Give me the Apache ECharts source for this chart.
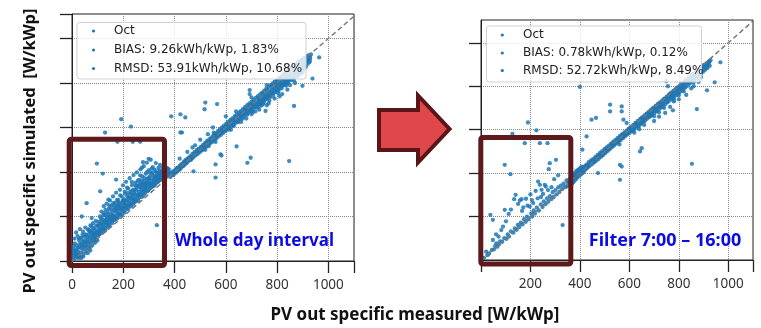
<!DOCTYPE html>
<html>
<head>
<meta charset="utf-8">
<script src="https://cdn.jsdelivr.net/npm/echarts@6/dist/echarts.min.js"></script>
<style>html,body{margin:0;padding:0;background:#fff}#c{width:761px;height:328px}</style>
</head>
<body>
<div id="c"></div>
<script>
// ---- data (measured, simulated) in W/kWp ----
const refLine = [[0, 0], [1100, 1100]];
const legendLeft = ['Oct', 'BIAS: 9.26kWh/kWp, 1.83%', 'RMSD: 53.91kWh/kWp, 10.68%'];
const legendRight = ['Oct', 'BIAS: 0.78kWh/kWp, 0.12%', 'RMSD: 52.72kWh/kWp, 8.49%'];
const labelLeft = 'Whole day interval';
const labelRight = 'Filter 7:00 \u2013 16:00';
const xTitle = 'PV out specific measured [W/kWp]';
const yTitle = 'PV out specific simulated  [W/kWp]';

const wholeDayLow = [
[1,4],[3,37],[4,11],[6,66],[7,22],[9,9],[10,101],[12,48],[13,30],[15,18],[16,128],[18,70],[19,25],[21,57],[22,112],[24,42],[25,29],[27,94],[28,16],[30,77],[31,143],[33,59],[34,38],[36,104],[37,21],[39,88],[40,65],[42,50],[43,132],[45,70],[46,32],[48,108],[49,84],[51,55],[52,150],[54,74],[55,43],[57,115],[58,95],[60,66],[61,35],[63,140],[64,83],[66,56],[67,122],[69,100],[70,78],[72,160],[73,64],[75,109],[76,90],[78,134],[79,71],[81,98],[82,170],[84,118],[85,88],[87,146],[88,103],[90,82],[91,125],[93,180],[94,98],[96,137],[97,115],[99,92],[100,158],
[102,131],[103,176],[105,118],[106,149],[108,121],[109,200],[111,139],[112,126],[114,165],[115,222],[117,143],[118,131],[120,187],[121,160],[123,140],[124,246],[126,171],[127,150],[129,206],[130,138],[132,183],[133,162],[135,258],[136,171],[138,150],[139,221],[141,185],[142,162],[144,236],[145,198],[147,157],[148,272],[150,210],[151,176],[153,191],[154,248],[156,170],[157,222],[159,187],[160,290],[162,205],[163,182],[165,238],[166,196],[168,262],[169,186],[171,220],[172,307],[174,204],[175,246],[177,192],[178,231],[180,275],[181,215],[183,200],[184,258],[186,236],[187,320],[189,210],[190,248],[192,226],[193,290],[195,205],[196,262],[198,240],[199,340],[201,222],[202,278],[204,246],[205,218],[207,302],[208,256],[210,236],[211,356],[213,272],[214,232],[216,290],[217,250],[219,325],[220,236],[222,266],[223,248],[225,372],[226,284],[228,258],[229,310],[231,246],[232,278],[234,340],[235,262],[237,294],[238,255],[240,386],[241,276],[243,320],[244,264],[246,300],[247,352],[249,268],[250,290],[252,318],[253,398],[255,280],[256,338],[258,296],[259,270],[261,365],[262,310],[264,286],[265,330],[267,412],[268,300],[270,346],[271,318],[273,288],[274,380],[276,306],[277,334],[279,296],[280,426],[282,322],[283,360],[285,305],[286,345],[288,392],[289,318],[291,336],[292,442],[294,314],[295,370],[297,340],[298,318],[300,408],[301,352],[303,326],[304,380],[306,338],[307,455],[309,360],[310,330],[312,396],[313,348],[315,422],[316,338],[318,370],[319,352],[321,338],[322,410],[324,368],[325,346],[327,440],[328,380],[330,352],[331,396],[333,362],[334,375],[336,356],[337,418],[339,372],[340,385],[342,362],[343,432],[345,390],[346,372],[348,404],[349,366],[351,384],[352,420],[354,378],[355,398],[357,370],[358,386],[360,414],[361,380],[363,396],[364,372],[366,406],[367,388],[369,380],[370,418],[372,392],[373,386],[375,400],[376,392],[378,410],[379,388],
[6,52],[11,79],[17,45],[23,14],[29,102],[35,12],[41,118],[47,90],[14,35],[26,62],[38,75],[44,20],
[53,120],[56,60],[62,108],[68,135],[71,47],[77,155],[80,115],[86,125],[92,100],[95,160],[98,130],[59,88],[65,142],[74,128],[83,145],[89,112],
[104,160],[107,135],[113,190],[119,150],[122,205],[128,178],[131,230],[137,195],[143,168],[146,250],[110,168],[116,176],[125,215],[134,188],[140,210],[149,185],
[152,232],[158,205],[161,260],[167,228],[170,195],[176,275],[179,248],[185,212],[188,295],[194,232],[197,270],[155,198],[164,250],[173,236],[182,262],[191,240],
[203,260],[206,312],[212,248],[215,330],[221,285],[224,258],[230,300],[233,355],[239,280],[242,305],[248,340],[209,272],[218,305],[227,282],[236,318],[245,272],
[251,330],[257,360],[260,300],[266,385],[269,330],[275,350],[278,315],[284,372],[287,330],[293,400],[296,355],[263,345],[272,362],[281,340],[290,350],[299,370],
[302,372],[308,345],[311,415],[317,385],[320,360],[326,402],[332,378],[338,395],[344,385],[350,400],[356,392],[362,408],[368,395],[374,415],[305,395],[323,380],[341,405],[359,425]
];
const wholeDayBand = [
[380,392],[383,377],[386,395],[388,384],[391,389],[394,403],[396,386],[399,401],[402,395],[404,412],[407,399],[410,408],[412,420],[415,407],[418,416],[421,428],[423,414],[426,422],[429,437],[431,425],[434,430],[437,446],[440,432],[442,441],[445,455],[448,440],[450,449],[453,462],[456,450],[459,457],[461,471],[464,455],[467,466],[470,481],[472,464],[475,473],[478,489],[481,474],[483,482],[486,498],[489,480],[492,490],[494,505],[497,488],[500,497],[503,513],[505,496],[508,506],[511,522],[514,505],[516,514],[519,531],[522,512],[525,522],[527,540],[530,521],[533,530],[536,548],[538,528],[541,538],[544,556],[547,535],[549,545],[552,565],[555,544],[558,553],[560,573],[563,551],[566,562],[569,583],[571,559],[574,570],[577,592],[580,566],[582,578],[585,600],[588,574],[591,586],[593,608],[596,582],[599,594],[602,617],[604,590],[607,601],[610,626],[613,597],[615,610],[618,634],[621,604],[624,617],[626,641],[629,612],[632,626],[635,651],[637,620],[640,633],[643,658],[646,627],[648,642],[651,667],[654,636],[657,650],[659,675],[662,644],[665,657],[668,684],[670,650],[673,666],[676,692],[679,659],[681,673],[684,700],[687,666],[690,682],[692,708],[695,674],[698,690],[701,716],[703,681],[706,698],[709,725],[712,690],[714,706],[717,733],[720,697],[723,714],[725,741],[728,705],[731,722],[734,750],[736,713],[739,730],[742,757],[745,720],[747,738],[750,766],[753,728],[756,746],[758,774],[761,735],[764,754],[767,782],[769,742],[772,762],[775,790],[778,750],[780,770],[783,798],[786,757],[789,778],[791,806],[794,765],[797,786],[800,814],[802,772],[805,793],[808,822],[811,780],[813,801],[816,830],[819,788],[822,809],[824,838],[827,795],[830,817],[833,846],[835,803],[838,824],[841,854],[844,810],[846,832],[849,862],[852,818],[855,840],[857,870],[860,826],[863,848],[866,878],[868,834],[871,855],[874,886],[877,842],[879,863],[882,894],[885,850],[888,871],[890,900],[893,858],[896,879],[899,906],[901,866],[904,888],[907,913],[910,875],[912,897],[915,918],[918,884],[921,905],[923,924],[926,893],[929,912],[932,928],
[402,400],[409,414],[417,411],[425,430],[433,427],[441,449],[447,445],[455,460],[463,457],[471,472],[479,480],[487,486],[495,499],[501,504],[509,500],[518,520],[524,529],[532,536],[540,533],[546,550],[553,549],[561,562],[567,571],[575,568],[583,585],[589,593],[597,589],[605,606],[611,599],[619,622],[627,619],[633,637],[641,629],[649,651],[655,644],[663,667],[671,658],[677,680],[685,672],[693,688],[699,703],[707,692],[715,712],[721,708],[729,727],[737,721],[743,740],[751,738],[759,751],[765,760],[773,755],[781,779],[787,768],[795,790],[803,786],[809,805],[817,797],[825,820],[831,808],[839,834],[847,824],[853,848],[861,838],[869,862],[875,850],[883,876],[891,866],[897,892],[905,880],[913,903],[919,895],[927,918],
[603,610],[612,590],[622,628],[631,607],[639,645],[648,624],[657,662],[666,640],[674,679],[683,657],[692,697],[700,674],[709,715],[718,690],[727,734],[735,707],[744,752],[752,724],[762,769],[770,740],[779,787],[788,756],[797,804],[805,772],[814,822],[823,790],[832,840],[840,806],[849,856],[858,823],[866,873],[875,840],[884,890],[893,856],[902,908],[911,872],[920,922],[928,900],
[405,406],[413,418],[427,426],[436,440],[449,452],[458,462],[468,468],[477,482],[488,490],[498,500],[507,512],[516,518],[528,530],[537,540],[548,548],[557,560],[568,568],[578,580],[587,588],[595,598],
[705,668],[725,690],[748,712],[772,735],[795,760],[818,776],[842,800],[866,822],[888,845],[910,870],[735,698],[760,728],[806,765],[830,792],[854,812],[878,838],[902,862],
[700,660],[730,680],[760,700],[790,730],[820,750],[850,790],[870,800],[890,840],[810,740],[840,770],[860,820],[880,830],[900,850],[770,720],[740,700],[680,640],[660,625],[560,535],[520,500],[620,590],[715,672],[745,705],[785,742],[805,752],[835,788],[865,812],[895,845],
[420,460],[450,490],[480,520],[500,545],[550,600],[600,650],[470,510],[530,570],[640,672],[700,735],[760,790]
];
const wholeDayOutliers = [
[964,915],[938,820],[899,787],[866,697],[847,449],[693,768],[693,750],[736,723],[767,708],[755,674],[520,712],[566,705],[517,682],[553,577],[592,596],[533,516],[579,479],[474,403],[442,645],[429,577],[684,441],[697,464],[642,515],[583,474],[560,434],[560,375],[423,659],[387,650],[423,578],
[192,637],[230,604],[129,577],[177,536],[237,536],[266,536],[97,438],[120,393],[172,366],[277,444],[299,459],[273,419],[331,161],[357,366],[110,313],[57,260],[142,276],[38,200],[77,193]
];

const filteredLow = [
[12,10],[21,38],[26,22],[33,30],[38,208],[44,46],[48,92],[48,185],[53,49],[57,64],[62,77],[66,61],[73,72],[77,86],[82,138],[86,84],[89,154],[94,101],[96,231],[96,438],[103,97],[108,118],[113,108],[119,395],[121,132],[127,581],[131,126],[134,280],[137,146],[144,139],[149,162],[155,152],[157,274],[161,172],[164,280],[168,164],[174,188],[177,538],[181,176],[186,200],[190,633],[192,187],[197,246],[203,214],[207,200],[213,228],[218,214],[224,597],[226,241],[231,361],[234,228],[238,346],[238,538],[242,256],[245,323],[249,244],[254,270],[258,346],[261,257],[267,284],[269,538],[272,268],[274,418],[278,446],[279,294],[284,280],[290,312],[294,290],[301,322],[303,461],[306,302],[312,334],[317,313],[323,342],[330,161],[328,326],[334,352],[339,336],[346,338],[346,366],
[140,300],[150,258],[171,242],[182,282],[200,302],[211,262],[221,318],[229,284],[251,304],[262,338],[271,322],[121,232],[112,212],[101,178],[61,118],[71,108],[166,226],[188,250],[243,290],[206,276],[296,372],[312,390],[285,335]
];
const filteredBand = [
[352,356],[355,344],[357,370],[360,362],[362,348],[364,381],[366,367],[368,352],[370,389],[372,374],[373,358],[375,395],[377,380],[379,366],[381,402],[383,386],[384,372],[386,410],[388,392],[390,380],[392,414],[394,398],[396,386],[398,420],[400,404],[402,392],[404,426],[406,410],[408,398],[410,430],[412,414],[415,404],[418,428],[421,415],[424,436],[427,421],[430,440],[433,428],[436,450],[439,433],[442,446],[445,458],[448,440],[451,452],[454,466],[457,449],[460,459],[463,475],[466,457],[469,467],[472,484],[475,465],[478,476],[481,493],[484,474],[487,484],[490,501],[493,482],[496,492],[499,510],[502,492],[505,501],[508,519],[511,501],[514,510],[517,527],[520,510],[523,518],[526,536],[529,519],[532,527],[535,545],[538,527],[541,536],[544,553],[547,536],[550,544],[553,562],[556,544],[559,553],[562,571],[565,552],[568,561],[571,579],[574,561],[577,570],[580,588],[583,570],[586,578],[589,596],[592,578],[595,587],[598,605],[601,585],[604,596],[607,614],[610,593],[613,604],[616,622],[619,601],[622,613],[625,631],[628,610],[631,622],[634,640],[637,618],[640,630],[643,648],[646,626],[649,639],[652,657],[655,634],[658,648],[661,666],[664,643],[667,656],[670,674],[673,651],[676,665],[679,683],[682,659],[685,674],[688,692],[691,667],[694,682],[697,700],[700,676],[703,691],[706,709],[709,684],[712,699],[715,718],[718,692],[721,708],[724,726],[727,701],[730,717],[733,735],[736,709],[739,725],[742,743],[745,717],[748,734],[751,752],[754,726],[757,742],[760,761],[763,734],[766,751],[769,770],[772,742],[775,760],[778,778],[781,751],[784,768],[787,787],[790,759],[793,777],[796,796],[799,767],[802,786],[805,804],[808,776],[811,795],[814,813],[817,785],[820,804],[823,822],[826,794],[829,812],[832,830],[835,802],[838,821],[841,839],[844,812],[847,830],[850,848],[853,821],[856,838],[859,856],[862,830],[865,847],[868,865],[871,840],[874,856],[877,873],[880,849],[883,864],[886,882],[889,858],[892,873],[895,890],[898,867],[901,882],[904,898],[907,876],[910,890],[913,905],[916,885],[919,900],[922,914],[925,894],[928,920],
[402,404],[416,420],[428,426],[444,450],[456,452],[468,470],[480,484],[492,488],[504,508],[516,512],[528,530],[540,542],[552,548],[564,566],[576,574],[588,586],[600,602],[612,606],[624,624],[636,630],[648,646],[660,656],[672,668],[684,682],[696,690],[708,704],[720,716],[732,728],[744,740],[756,750],[768,764],[780,774],[792,788],[804,796],[816,810],[828,820],[840,834],[852,842],[864,858],[876,866],[888,880],[900,890],[912,902],[924,912],
[603,606],[614,596],[626,628],[637,614],[649,652],[660,640],[672,674],[683,662],[695,697],[706,686],[718,720],[729,706],[741,742],[752,728],[764,765],[775,750],[787,786],[798,772],[810,808],[821,796],[833,830],[844,818],[856,852],[867,840],[879,876],[890,862],[902,898],[913,884],[921,912],
[412,410],[426,430],[438,440],[452,456],[464,462],[476,478],[488,492],[500,500],[512,516],[524,522],[536,538],[548,552],[560,560],[572,576],[584,582],[596,598],
[650,632],[690,670],[730,710],[770,748],[810,788],[850,826],[890,866],
[620,586],[660,622],[700,662],[740,700],[780,738],[820,776],[860,818],[890,842],[560,532],[640,602],[720,680],[800,758],[880,836]
];
const filteredOutliers = [
[968,910],[945,818],[914,781],[873,695],[853,443],[749,823],[756,800],[765,705],[776,689],[745,677],[522,715],[569,707],[522,684],[569,684],[447,646],[465,654],[576,646],[589,631],[427,569],[410,508],[650,515],[643,500],[562,438],[569,430],[473,400],[400,797],[562,369],[700,640],[720,660],[800,740],[830,760],[850,790],[880,820],[860,800],[780,730]
];

const wholeDay = wholeDayLow.concat(wholeDayBand, wholeDayOutliers);
const filtered = filteredLow.concat(filteredBand, filteredOutliers);

const chart = echarts.init(document.getElementById('c'), null, {renderer: 'canvas'});
const tickFont = {fontFamily: 'Noto Sans', fontSize: 13.5, color: '#333'};
function xAxisCfg(idx, hideZero) {
  return {
    type: 'value', gridIndex: idx, min: 0, max: 1100, interval: 200,
    axisLine: {show: true, onZero: false, lineStyle: {color: '#222', width: 1}},
    axisTick: {show: true, inside: false, length: 12, lineStyle: {color: '#222', width: 1.3}},
    axisLabel: Object.assign({margin: 17, formatter: v => (hideZero && v === 0) || v > 1000 ? '' : String(v)}, tickFont),
    splitLine: {show: true, lineStyle: {type: 'dotted', color: '#888', width: 1}}
  };
}
function yAxisCfg(idx, max, hideZero) {
  const c = {
    type: 'value', gridIndex: idx, min: 0, max: max, interval: 200,
    axisLine: {show: true, onZero: false, lineStyle: {color: '#222', width: 1}},
    axisTick: {show: true, inside: false, length: 12, lineStyle: {color: '#222', width: 1.3}},
    axisLabel: {show: false},
    splitLine: {show: true, lineStyle: {type: 'dotted', color: '#888', width: 1}}
  };
  if (hideZero) c.axisTick.customValues = [200, 400, 600, 800, 1000];
  return c;
}
function scatter(idx, data) {
  return {type: 'scatter', xAxisIndex: idx, yAxisIndex: idx, data: data, symbolSize: 4.3,
    itemStyle: {color: '#1f77b4', opacity: 0.85}, silent: true, z: 2};
}
function diag(idx) {
  return {type: 'line', xAxisIndex: idx, yAxisIndex: idx, data: refLine, symbol: 'none', silent: true, z: 3,
    lineStyle: {color: '#777', width: 1.5, type: [5, 3]}};
}
function legendGraphics(x0, y0, w, h, dotX, textX, rows, texts) {
  const g = [{type: 'rect', z: 10, shape: {x: x0, y: y0, width: w, height: h, r: 3},
    style: {fill: 'rgba(255,255,255,0.8)', stroke: '#d0d0d0', lineWidth: 1}}];
  texts.forEach((t, i) => {
    g.push({type: 'circle', z: 11, shape: {cx: dotX, cy: rows[i], r: 1.6}, style: {fill: '#1f77b4'}});
    g.push({type: 'text', z: 11, x: textX, y: rows[i], style: {text: t, fontFamily: 'DejaVu Sans', fontSize: 12,
      fill: '#222', verticalAlign: 'middle', align: 'left'}});
  });
  return g;
}
const redBox = '#5e1a1a';
const graphics = [].concat(
  legendGraphics(77, 22.5, 229, 56.5, 93.5, 114, [31, 50, 68.5], legendLeft),
  legendGraphics(486.5, 26, 215, 56, 502.3, 523, [35, 53, 70.5], legendRight),
  [
    {type: 'rect', z: 20, shape: {x: 69.2, y: 139.2, width: 95.3, height: 126.3, r: 2},
      style: {fill: 'none', stroke: redBox, lineWidth: 5}},
    {type: 'rect', z: 20, shape: {x: 480.8, y: 137.5, width: 90, height: 126.5, r: 2},
      style: {fill: 'none', stroke: redBox, lineWidth: 5}},
    {type: 'polygon', z: 20, shape: {points: [[379, 110], [418, 110], [418, 95.5], [449.5, 129], [418, 162.5], [418, 150], [379, 150]]},
      style: {fill: '#e0474b', stroke: '#5a1616', lineWidth: 4, lineJoin: 'miter'}},
    {type: 'text', z: 21, x: 254.5, y: 241, style: {text: labelLeft, fontFamily: 'Noto Sans', fontWeight: 'bold', fontSize: 17,
      fill: '#0b0be6', align: 'center', verticalAlign: 'middle'}},
    {type: 'text', z: 21, x: 665, y: 241, style: {text: labelRight, fontFamily: 'Noto Sans', fontWeight: 'bold', fontSize: 18,
      fill: '#0b0be6', align: 'center', verticalAlign: 'middle'}},
    {type: 'text', z: 21, x: 415, y: 315, style: {text: xTitle, fontFamily: 'Noto Sans', fontWeight: 'bold', fontSize: 17,
      fill: '#111', align: 'center', verticalAlign: 'middle'}},
    {type: 'text', z: 21, x: 30, y: 151, rotation: Math.PI / 2, style: {text: yTitle, fontFamily: 'Noto Sans', fontWeight: 'bold', fontSize: 16.5,
      fill: '#111', align: 'center', verticalAlign: 'middle'}}
  ]
);

chart.setOption({
  animation: false,
  backgroundColor: '#fff',
  grid: [
    {left: 72, top: 14, width: 282, height: 247, show: true, borderColor: '#222', borderWidth: 1, backgroundColor: 'transparent'},
    {left: 481, top: 20, width: 272, height: 240, show: true, borderColor: '#222', borderWidth: 1, backgroundColor: 'transparent'}
  ],
  xAxis: [xAxisCfg(0, false), xAxisCfg(1, true)],
  yAxis: [yAxisCfg(0, 1110, false), yAxisCfg(1, 1105, true)],
  series: [scatter(0, wholeDay), diag(0), scatter(1, filtered), diag(1)],
  graphic: graphics
});
</script>
</body>
</html>
